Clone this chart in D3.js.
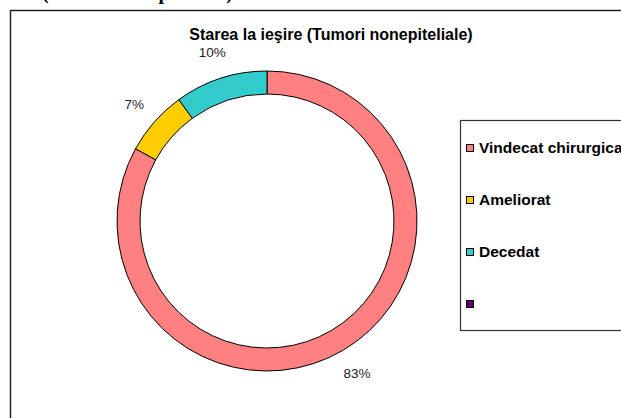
<!DOCTYPE html>
<html>
<head>
<meta charset="utf-8">
<script src="https://cdn.jsdelivr.net/npm/d3@7"></script>
<style>
  body { margin: 0; background: #fff; }
  svg { display: block; }
</style>
</head>
<body>
<svg id="chart" width="621" height="418"></svg>
<script>
// data
var categories = ["Vindecat chirurgical", "Ameliorat", "Decedat", ""];
var values = [83, 7, 10, 0];
var colors = ["#FF8080", "#FFCC00", "#33CCCC", "#660066"];
var pctLabels = ["83%", "7%", "10%", ""];

var svg = d3.select("#chart");

// bit of the page heading above the chart (cut by the crop)
svg.append("text")
  .attr("x", 233).attr("y", -1)
  .attr("text-anchor", "end")
  .style("font-family", "'Liberation Serif', 'Times New Roman', serif")
  .style("font-weight", "bold")
  .style("font-size", "20px")
  .text("ale (Tumori nonepiteliale)");

// chart frame
svg.append("rect")
  .attr("x", 10.5).attr("y", 10.5)
  .attr("width", 640).attr("height", 420)
  .attr("fill", "#fff")
  .attr("stroke", "#222").attr("stroke-width", 1.5);

svg.append("text")
  .attr("x", 331).attr("y", 40)
  .attr("text-anchor", "middle")
  .style("font-family", "Arial, 'Liberation Sans', sans-serif")
  .style("font-weight", "bold")
  .style("font-size", "16px")
  .text("Starea la ieşire (Tumori nonepiteliale)");

var cx = 267, cy = 221;
var outerR = 150, innerR = 127, labelR = 177;

var pie = d3.pie().sort(null).value(function(d) { return d; });
var arcs = pie(values);
var arc = d3.arc().innerRadius(innerR).outerRadius(outerR);
var labelArc = d3.arc().innerRadius(labelR).outerRadius(labelR);

var g = svg.append("g").attr("transform", "translate(" + cx + "," + cy + ")");

g.selectAll("path.slice")
  .data(arcs.filter(function(d) { return d.data > 0; }))
  .enter().append("path")
  .attr("class", "slice")
  .attr("d", arc)
  .attr("fill", function(d) { return colors[d.index]; })
  .attr("stroke", "#000").attr("stroke-width", 1);

g.selectAll("text.pct")
  .data(arcs.filter(function(d) { return d.data > 0; }))
  .enter().append("text")
  .attr("class", "pct")
  .attr("transform", function(d) { return "translate(" + labelArc.centroid(d) + ")"; })
  .attr("text-anchor", "middle")
  .attr("dy", "0.35em")
  .style("font-family", "Arial, 'Liberation Sans', sans-serif")
  .style("font-size", "13.5px")
  .attr("fill", "#222")
  .text(function(d) { return pctLabels[d.index]; });

// legend
svg.append("rect")
  .attr("x", 460.5).attr("y", 120.5)
  .attr("width", 200).attr("height", 210)
  .attr("fill", "#fff")
  .attr("stroke", "#333").attr("stroke-width", 1.2);

var rowY = d3.scalePoint().domain(categories.map(function(c, i) { return i; }))
  .range([148, 304]);

var leg = svg.selectAll("g.leg")
  .data(categories)
  .enter().append("g")
  .attr("class", "leg")
  .attr("transform", function(d, i) { return "translate(466," + rowY(i) + ")"; });

leg.append("rect")
  .attr("x", 0.5).attr("y", -3.5)
  .attr("width", 7).attr("height", 7)
  .attr("fill", function(d, i) { return colors[i]; })
  .attr("stroke", "#000").attr("stroke-width", 1);

leg.append("text")
  .attr("x", 13).attr("y", 0)
  .attr("dy", "0.35em")
  .style("font-family", "Arial, 'Liberation Sans', sans-serif")
  .style("font-weight", "bold")
  .style("font-size", "15.5px")
  .text(function(d) { return d; });
</script>
</body>
</html>
